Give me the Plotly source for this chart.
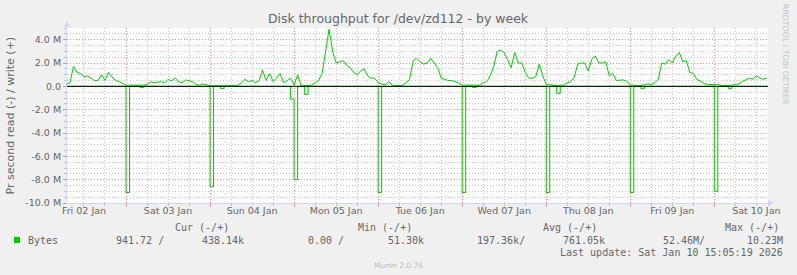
import plotly.graph_objects as go
import pandas as pd

# ---------------- data (MB/s, hourly samples starting 2026-01-02 07:00) ----------------
write_jan02 = [0.2, 0.3, 1.7, 1.2, 1.1, 0.8, 0.9, 0.7, 0.5, 0.5, 1.0, 0.5, 1.2, 0.8, 0.5, 0.4, 0.25]
write_jan03 = [0.1, 0.1, 0.1, 0.1, 0.05, 0.1, 0.15, 0.4, 0.3, 0.35, 0.4, 0.3, 0.6, 0.45, 0.7, 0.4,
               0.3, 0.55, 0.45, 0.4, 0.15, 0.1, 0.2, 0.1]
write_jan04 = [0.05, 0.05, 0.05, 0.0, 0.05, 0.05, 0.05, 0.05, 0.1, 0.3, 0.6, 0.4, 0.5, 0.3, 0.5, 1.4,
               0.5, 1.1, 0.4, 0.7, 1.1, 0.3, 0.5, 0.7]
write_jan05 = [0.1, 1.0, 0.05, 0.05, 0.05, 0.1, 0.3, 0.5, 1.1, 2.9, 4.9, 3.0, 2.0, 2.1, 2.2, 1.8,
               1.6, 1.2, 1.0, 1.3, 1.5, 0.9, 0.7, 0.7]
write_jan06 = [0.3, 0.2, 0.1, 0.4, 0.1, 0.05, 0.05, 0.1, 0.3, 0.6, 2.2, 2.4, 2.1, 1.9, 2.0, 2.4,
               2.0, 1.6, 0.7, 0.6, 0.5, 0.5, 0.4, 0.3]
write_jan07 = [0.1, 0.1, 0.1, 0.05, 0.05, 0.1, 0.3, 0.4, 0.9, 1.7, 3.0, 3.1, 2.9, 2.3, 1.6, 2.9,
               2.0, 2.0, 1.2, 0.7, 0.7, 0.8, 1.9, 0.9]
write_jan08 = [0.15, 0.15, 0.1, 0.05, 0.1, 0.1, 0.3, 0.4, 0.8, 1.9, 2.0, 2.0, 1.3, 2.3, 2.6, 2.0,
               2.0, 2.1, 0.9, 1.1, 0.5, 0.5, 0.55, 0.45]
write_jan09 = [0.1, 0.1, 0.1, 0.05, 0.15, 0.2, 0.15, 0.3, 0.6, 2.0, 1.9, 2.3, 2.0, 2.6, 2.9, 2.1,
               2.2, 1.2, 1.1, 0.6, 0.45, 0.25, 0.15, 0.15]
write_jan10 = [0.2, 0.15, 0.05, 0.05, 0.05, 0.1, 0.15, 0.2, 0.4, 0.55, 0.7, 0.6, 0.9, 0.7, 0.6, 0.7]

read_jan02 = [0, 0, 0, 0, 0, 0, 0, 0, 0, 0, 0, 0, 0, 0, 0, 0, 0]
read_jan03 = [9.1, 0, 0, 0, 0.1, 0, 0, 0, 0, 0, 0, 0, 0, 0, 0, 0, 0, 0, 0, 0, 0, 0, 0, 0]
read_jan04 = [8.6, 0, 0, 0.2, 0, 0, 0, 0, 0, 0, 0, 0, 0, 0, 0, 0, 0, 0, 0, 0, 0, 0, 0, 1.1]
read_jan05 = [8.0, 0, 0, 0.7, 0, 0, 0, 0, 0, 0, 0, 0, 0, 0, 0, 0, 0, 0, 0, 0, 0, 0, 0, 0]
read_jan06 = [9.1, 0, 0, 0, 0, 0, 0, 0, 0, 0, 0, 0, 0, 0, 0, 0, 0, 0, 0, 0, 0, 0, 0, 0]
read_jan07 = [9.1, 0, 0, 0.1, 0, 0, 0, 0, 0, 0, 0, 0, 0, 0, 0, 0, 0, 0, 0, 0, 0, 0, 0, 0]
read_jan08 = [9.1, 0, 0, 0.6, 0, 0, 0, 0, 0, 0, 0, 0, 0, 0, 0, 0, 0, 0, 0, 0, 0, 0, 0, 0]
read_jan09 = [9.1, 0, 0, 0.2, 0, 0, 0, 0, 0, 0, 0, 0, 0, 0, 0, 0, 0, 0, 0, 0, 0, 0, 0, 0]
read_jan10 = [9.0, 0, 0, 0, 0.2, 0, 0, 0, 0, 0, 0, 0, 0, 0, 0, 0]

day_labels = ["Fri 02 Jan", "Sat 03 Jan", "Sun 04 Jan", "Mon 05 Jan", "Tue 06 Jan",
              "Wed 07 Jan", "Thu 08 Jan", "Fri 09 Jan", "Sat 10 Jan"]
label_noons = ["2026-01-02 12:00", "2026-01-03 12:00", "2026-01-04 12:00", "2026-01-05 12:00",
               "2026-01-06 12:00", "2026-01-07 12:00", "2026-01-08 12:00", "2026-01-09 12:00",
               "2026-01-10 12:00"]
midnights = ["2026-01-03", "2026-01-04", "2026-01-05", "2026-01-06", "2026-01-07",
             "2026-01-08", "2026-01-09", "2026-01-10"]
y_tickvals = [-10, -8, -6, -4, -2, 0, 2, 4]
y_ticktext = ["-10.0 M", "-8.0 M", "-6.0 M", "-4.0 M", "-2.0 M", "0.0", "2.0 M", "4.0 M"]
x_range = ["2026-01-02 07:09", "2026-01-10 15:20"]

legend_head = ["Cur (-/+)", "Min (-/+)", "Avg (-/+)", "Max (-/+)"]
legend_vals = ["941.72 /", "438.14k", "0.00 /", "51.30k", "197.36k/", "761.05k", "52.46M/", "10.23M"]

write = (write_jan02 + write_jan03 + write_jan04 + write_jan05 + write_jan06 + write_jan07
         + write_jan08 + write_jan09 + write_jan10)
read = (read_jan02 + read_jan03 + read_jan04 + read_jan05 + read_jan06 + read_jan07
        + read_jan08 + read_jan09 + read_jan10)
times = pd.date_range("2026-01-02 07:00", periods=len(write), freq="h")

# ---------------- geometry ----------------
W, H = 797, 275
L, R, T, B = 67, 29, 28, 72
PW, PH = W - L - R, H - T - B


def px(x):
    return (x - L) / PW


def py(y):
    return (H - B - y) / PH


GREEN = "#00CC00"
FONT = "#666666"
AXIS = "#CFD6F8"
MGRID = "rgba(230,120,120,0.75)"
GRID = "rgba(150,150,150,0.55)"
DASH = "1px,2px"

fig = go.Figure()
fig.add_trace(go.Scatter(x=times, y=write, mode="lines", line=dict(color=GREEN, width=1),
                         showlegend=False, hoverinfo="skip"))
fig.add_trace(go.Scatter(x=times, y=[-v for v in read], mode="lines",
                         line=dict(color=GREEN, width=1, shape="hv"),
                         showlegend=False, hoverinfo="skip"))
fig.add_trace(go.Scatter(x=[times[0]], y=[None], xaxis="x2", mode="lines",
                         showlegend=False, hoverinfo="skip"))

axfont = dict(family="DejaVu Sans", size=9.5, color=FONT)

fig.update_layout(
    width=W, height=H,
    margin=dict(l=L, r=R, t=T, b=B, pad=0),
    paper_bgcolor="#F0F0F0", plot_bgcolor="#FFFFFF",
    hovermode=False,
    title=dict(text="Disk throughput for /dev/zd112 - by week",
               font=dict(family="DejaVu Sans", size=12.5, color=FONT),
               x=398 / W, xanchor="center", y=1 - 19 / H, yanchor="middle", xref="container",
               yref="container"),
    xaxis=dict(type="date", range=x_range, tickvals=midnights, ticktext=[""] * len(midnights),
               showgrid=True, gridcolor=MGRID, griddash=DASH, gridwidth=1,
               ticks="outside", ticklen=3, tickcolor=MGRID,
               showline=True, linecolor=AXIS, linewidth=1, zeroline=False,
               minor=dict(tick0="2026-01-02", dtick=21600000, showgrid=True, gridcolor=GRID,
                          griddash=DASH, ticks="outside", ticklen=2, tickcolor=GRID),
               fixedrange=True),
    xaxis2=dict(type="date", range=x_range, overlaying="x", anchor="y", side="bottom",
                tickvals=label_noons, ticktext=day_labels, showgrid=False, ticks="",
                showline=False, zeroline=False, tickfont=axfont, fixedrange=True),
    yaxis=dict(range=[-10, 5], tickvals=y_tickvals, ticktext=y_ticktext,
               showgrid=True, gridcolor=MGRID, griddash=DASH, gridwidth=1,
               ticks="outside", ticklen=3, tickcolor=MGRID,
               showline=True, linecolor=AXIS, linewidth=1, zeroline=False,
               minor=dict(tick0=0, dtick=0.5, showgrid=True, gridcolor=GRID, griddash=DASH,
                          ticks="outside", ticklen=2, tickcolor=GRID),
               tickfont=axfont, fixedrange=True),
)

shapes = [
    # zero rule on top
    dict(type="line", xref="paper", yref="y", x0=0, x1=1, y0=0, y1=0,
         line=dict(color="black", width=1), layer="above"),
    # y axis arrow
    dict(type="line", xref="paper", yref="paper", x0=0, x1=0, y0=1, y1=py(25),
         line=dict(color=AXIS, width=1)),
    dict(type="path", xref="paper", yref="paper",
         path=f"M {px(64)} {py(27)} L {px(70)} {py(27)} L {px(67)} {py(21)} Z",
         fillcolor=AXIS, line=dict(color=AXIS, width=0)),
    # x axis arrow
    dict(type="path", xref="paper", yref="paper",
         path=f"M {px(768)} {py(200)} L {px(768)} {py(206)} L {px(774)} {py(203)} Z",
         fillcolor=AXIS, line=dict(color=AXIS, width=0)),
    # legend colour box
    dict(type="rect", xref="paper", yref="paper", x0=px(14), x1=px(20), y0=py(243), y1=py(237),
         fillcolor=GREEN, line=dict(width=0)),
]

mono = dict(family="DejaVu Sans Mono", size=10, color=FONT)
ann = []


def text(s, x, y, font, xanchor="left", angle=0):
    ann.append(dict(text=s, x=px(x), y=py(y), xref="paper", yref="paper", showarrow=False,
                    xanchor=xanchor, yanchor="middle", font=font, textangle=angle,
                    borderpad=0))


# y axis title
text("Pr second read (-) / write (+)", 10, 115.5,
     dict(family="DejaVu Sans", size=11, color=FONT), xanchor="center", angle=-90)
# watermark side text
text("RRDTOOL / TOBI OETIKER", 786, 54, dict(family="DejaVu Sans", size=7.8, color="#C4C4C4"),
     xanchor="center", angle=90)

# legend header row
for s, x in zip(legend_head, [174, 356.7, 541.7, 724]):
    text(s, x, 227.3, mono)
# legend value row
text("Bytes", 26.7, 240, mono)
for s, x in zip(legend_vals[:-1], [115, 200.7, 306.7, 386.7, 476, 561.7, 661.7]):
    text(s, x, 240, mono)
text(legend_vals[-1], 783.5, 240, mono, xanchor="right")
text("Last update: Sat Jan 10 15:05:19 2026", 783.5, 252.5, mono, xanchor="right")
text("Munin 2.0.76", 398.5, 265, dict(family="DejaVu Sans", size=7.5, color="#BBBBBB"),
     xanchor="center")

fig.update_layout(shapes=shapes, annotations=ann)
fig.write_html("out.html")
